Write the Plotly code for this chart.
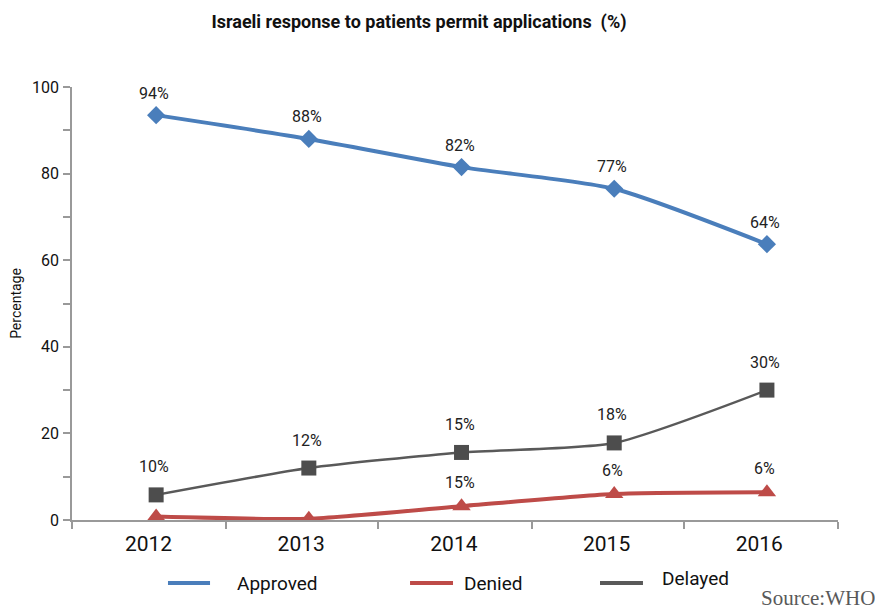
import plotly.graph_objects as go

years = ["2012", "2013", "2014", "2015", "2016"]
approved = [93.5, 88.0, 81.5, 76.5, 63.7]
denied = [0.8, 0.3, 3.2, 6.0, 6.4]
delayed = [5.8, 12.0, 15.6, 17.8, 30.0]
approved_labels = ["94%", "88%", "82%", "77%", "64%"]
denied_labels = ["", "", "15%", "6%", "6%"]
delayed_labels = ["10%", "12%", "15%", "18%", "30%"]

FONT = "Roboto, Liberation Sans, sans-serif"
xs = [int(y) for y in years]

fig = go.Figure()
series = [
    ("Approved", approved, "#4A7EBB", 4, "diamond", 14, "#4A7EBB"),
    ("Denied", denied, "#BE4B48", 4, "triangle-up", 16, "#BE4B48"),
    ("Delayed", delayed, "#595959", 2.5, "square", 15, "#4D4D4D"),
]
for name, vals, col, w, sym, ms, mcol in series:
    fig.add_trace(go.Scatter(
        x=xs, y=vals, name=name, mode="lines+markers",
        line=dict(color=col, width=w, shape="spline", smoothing=0.6),
        marker=dict(symbol=sym, size=ms, color=mcol),
        showlegend=False,
    ))

annotations = []
for vals, labels, ys in [(approved, approved_labels, 22), (denied, denied_labels, 24), (delayed, delayed_labels, 28)]:
    for xv, v, t in zip(xs, vals, labels):
        if t:
            annotations.append(dict(x=xv, y=v, xref="x", yref="y", text=t, showarrow=False,
                                    yshift=ys, xshift=-2, font=dict(family=FONT, size=16, color="#222")))

# legend drawn manually (paper coordinates)
legend_items = [("Approved", "#4A7EBB", 0.1253, 0.1802, 0.2128, -0.1455),
                ("Denied", "#BE4B48", 0.4413, 0.4974, 0.5091, -0.1455),
                ("Delayed", "#595959", 0.6893, 0.7454, 0.7676, -0.1340)]
shapes = []
for name, col, x0, x1, xt, yt in legend_items:
    shapes.append(dict(type="line", xref="paper", yref="paper", x0=x0, x1=x1,
                       y0=-0.1455, y1=-0.1455, line=dict(color=col, width=4)))
    annotations.append(dict(xref="paper", yref="paper", x=xt, y=yt,
                            text=name, showarrow=False, xanchor="left", yanchor="middle",
                            font=dict(family=FONT, size=19, color="#111")))
annotations.append(dict(xref="paper", yref="paper", x=1.0515, y=-0.180, text="Source:WHO",
                        showarrow=False, xanchor="right", yanchor="middle",
                        font=dict(family="Liberation Serif, DejaVu Serif, serif", size=21, color="#595959")))

ytickvals = list(range(0, 101, 10))
yticktext = [str(v) if v % 20 == 0 else "" for v in ytickvals]
# category boundaries (tick marks) and label positions on the year axis
boundaries = [2011.4495, 2012.455, 2013.455, 2014.46, 2015.46, 2016.4645]
label_pos = [x - 0.05 for x in xs]

fig.update_layout(
    width=875, height=601,
    margin=dict(l=64, r=45, t=79, b=89),
    paper_bgcolor="white", plot_bgcolor="white",
    title=dict(text="<b>Israeli response to patients permit applications  (%)</b>",
               x=0.4697, xanchor="center", y=0.9767, yanchor="middle",
               font=dict(family=FONT, size=18, color="#111")),
    xaxis=dict(type="linear", range=[2011.449, 2016.4655],
               tickmode="array", tickvals=label_pos, ticktext=years, ticks="",
               minor=dict(tickmode="array", tickvals=boundaries, ticks="outside",
                          ticklen=7, tickcolor="#999", tickwidth=1.5, showgrid=False),
               ticklabelstandoff=4,
               showline=True, linecolor="#999", linewidth=1.5,
               showgrid=False, zeroline=False, automargin=False,
               tickfont=dict(family=FONT, size=21, color="#111")),
    yaxis=dict(range=[0, 100], tickvals=ytickvals, ticktext=yticktext, ticks="outside",
               ticklen=7, tickcolor="#999", tickwidth=1.5, showline=True, linecolor="#999", linewidth=1.5,
               showgrid=False, zeroline=False, automargin=False, ticklabelstandoff=1,
               title=dict(text="Percentage", font=dict(family=FONT, size=14, color="#111"), standoff=9),
               tickfont=dict(family=FONT, size=16, color="#111")),
    annotations=annotations,
    shapes=shapes,
)

fig.write_html("out.html")
